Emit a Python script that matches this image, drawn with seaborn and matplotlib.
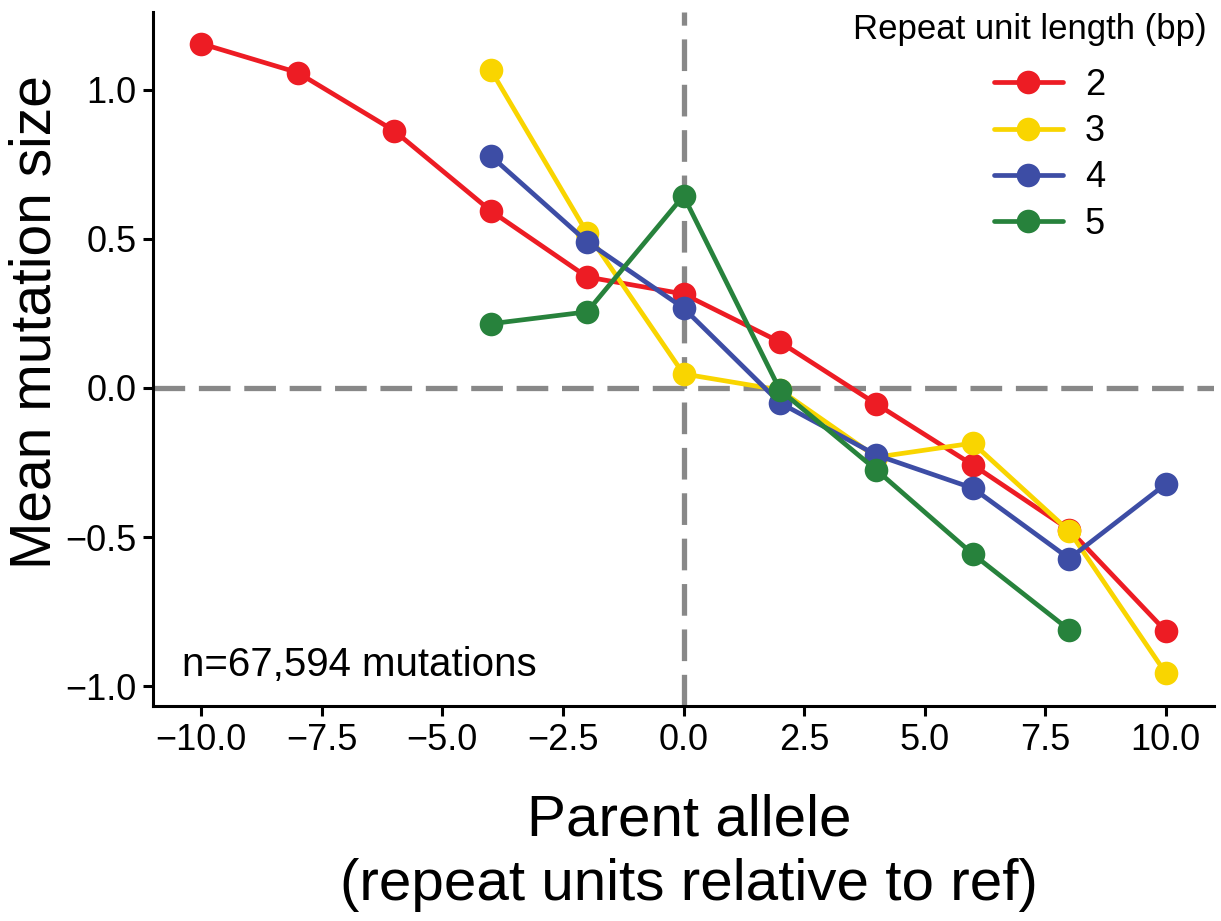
import numpy as np
import pandas as pd
import matplotlib
matplotlib.use("Agg")
import matplotlib.pyplot as plt
import seaborn as sns

x_2bp = [-10, -8, -6, -4, -2, 0, 2, 4, 6, 8, 10]
y_2bp = [1.154, 1.057, 0.862, 0.594, 0.372, 0.315, 0.154, -0.054, -0.258, -0.475, -0.815]
x_3bp = [-4, -2, 0, 2, 4, 6, 8, 10]
y_3bp = [1.067, 0.52, 0.047, -0.007, -0.232, -0.185, -0.48, -0.956]
x_4bp = [-4, -2, 0, 2, 4, 6, 8, 10]
y_4bp = [0.778, 0.49, 0.268, -0.05, -0.225, -0.336, -0.572, -0.322]
x_5bp = [-4, -2, 0, 2, 4, 6, 8]
y_5bp = [0.215, 0.255, 0.644, -0.007, -0.275, -0.557, -0.811]

units = ["2", "3", "4", "5"]
colors = ["#ED1C24", "#F9D500", "#3D4DA5", "#27823C"]

frames = []
for u, xs, ys in zip(units, [x_2bp, x_3bp, x_4bp, x_5bp], [y_2bp, y_3bp, y_4bp, y_5bp]):
    frames.append(pd.DataFrame({"parent": xs, "mean": ys, "unit": u}))
df = pd.concat(frames, ignore_index=True)

sns.set_style("ticks")
plt.rcParams["font.family"] = ["Liberation Sans", "DejaVu Sans"]
for k in ["text.color", "axes.labelcolor", "xtick.color", "ytick.color", "axes.edgecolor"]:
    plt.rcParams[k] = "black"

fig = plt.figure(figsize=(12.21, 9.21), dpi=100)
ax = fig.add_axes([153/1221, 1-706/921, (1214-153)/1221, (706-12)/921])

dash = (0, (6, 2.6))
ax.axhline(0, color="#888888", lw=3.8, ls=dash, zorder=1)
ax.axvline(0, color="#888888", lw=3.8, ls=dash, zorder=1)

sns.lineplot(data=df, x="parent", y="mean", hue="unit", hue_order=units,
             palette=colors, marker="o", markersize=17, markeredgewidth=0,
             linewidth=3.4, ax=ax, zorder=3, legend=True)

ax.set_xlim(-11, 11)
ax.set_ylim(-1.066, 1.26)
ax.set_xticks([-10, -7.5, -5, -2.5, 0, 2.5, 5, 7.5, 10])
ax.set_xticklabels(["\u221210.0", "\u22127.5", "\u22125.0", "\u22122.5", "0.0", "2.5", "5.0", "7.5", "10.0"])
ax.set_yticks([-1, -0.5, 0, 0.5, 1])
ax.set_yticklabels(["\u22121.0", "\u22120.5", "0.0", "0.5", "1.0"])
ax.tick_params(labelsize=26, width=2.2, length=7, color="black", labelcolor="black", pad=5)

for s in ["top", "right"]:
    ax.spines[s].set_visible(False)
for s in ["left", "bottom"]:
    ax.spines[s].set_linewidth(2.2)
    ax.spines[s].set_color("black")

ax.set_xlabel("Parent allele\n(repeat units relative to ref)", fontsize=42, labelpad=26, linespacing=1.25)
ax.set_ylabel("Mean mutation size", fontsize=41, labelpad=2)
ax.yaxis.label.set_y(0.553)
ax.xaxis.label.set_x(0.505)

ax.text(-10.4, -0.93, "n=67,594 mutations", fontsize=29, ha="left", va="center")

handles, labels = ax.get_legend_handles_labels()
leg = ax.legend(handles, labels, frameon=False,
                loc="upper left", bbox_to_anchor=(994/1221, 1-68/921), bbox_transform=fig.transFigure,
                fontsize=26, handlelength=1.91, labelspacing=0.31, handletextpad=0.6,
                borderpad=0, borderaxespad=0)
fig.text(1030/1221, 1-30/921, "Repeat unit length (bp)", fontsize=25, ha="center", va="center")

fig.savefig("out.png", dpi=100)
